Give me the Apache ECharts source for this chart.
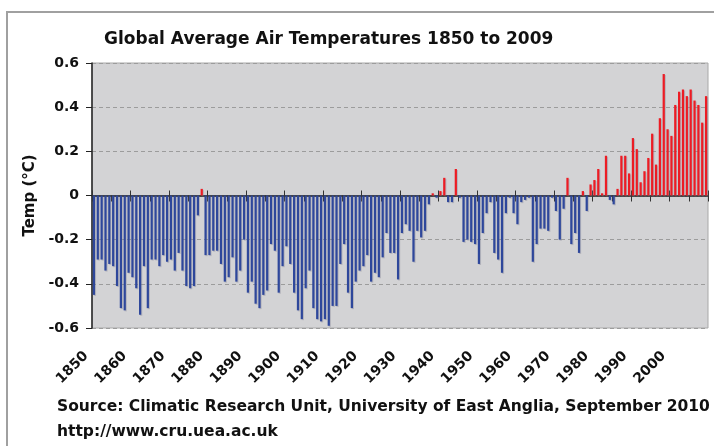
<!DOCTYPE html>
<html>
<head>
<meta charset="utf-8">
<script src="https://cdn.jsdelivr.net/npm/echarts@6/dist/echarts.min.js"></script>
<style>
  html, body { margin: 0; padding: 0; background: #fff; }
  #chart { width: 714px; height: 446px; }
</style>
</head>
<body>
<div id="chart"></div>
<script>
const firstYear = 1850
const lastYear = 2009
const years = []
for (let y = firstYear; y <= lastYear; y++) years.push(String(y))

// annual anomaly (degC), one row per decade
const temps = [
  -0.45, -0.29, -0.29, -0.34, -0.31, -0.32, -0.41, -0.51, -0.52, -0.35,
  -0.37, -0.42, -0.54, -0.32, -0.51, -0.29, -0.29, -0.32, -0.27, -0.30,
  -0.29, -0.34, -0.26, -0.34, -0.41, -0.42, -0.41, -0.09, 0.03, -0.27,
  -0.27, -0.25, -0.25, -0.31, -0.39, -0.37, -0.28, -0.39, -0.34, -0.20,
  -0.44, -0.39, -0.49, -0.51, -0.45, -0.43, -0.22, -0.25, -0.44, -0.32,
  -0.23, -0.31, -0.44, -0.52, -0.56, -0.42, -0.34, -0.51, -0.56, -0.57,
  -0.56, -0.59, -0.50, -0.50, -0.31, -0.22, -0.44, -0.51, -0.39, -0.34,
  -0.32, -0.27, -0.39, -0.35, -0.37, -0.28, -0.17, -0.26, -0.26, -0.38,
  -0.17, -0.13, -0.16, -0.30, -0.16, -0.19, -0.16, -0.04, 0.01, -0.01,
  0.02, 0.08, -0.03, -0.03, 0.12, -0.01, -0.21, -0.20, -0.21, -0.22,
  -0.31, -0.17, -0.08, -0.03, -0.26, -0.29, -0.35, -0.08, -0.01, -0.08,
  -0.13, -0.03, -0.02, -0.01, -0.30, -0.22, -0.15, -0.15, -0.16, -0.01,
  -0.07, -0.20, -0.06, 0.08, -0.22, -0.17, -0.26, 0.02, -0.07, 0.05,
  0.07, 0.12, 0.01, 0.18, -0.02, -0.04, 0.03, 0.18, 0.18, 0.10,
  0.26, 0.21, 0.06, 0.11, 0.17, 0.28, 0.14, 0.35, 0.55, 0.30,
  0.27, 0.41, 0.47, 0.48, 0.45, 0.48, 0.43, 0.41, 0.33, 0.45
]

const titleText = 'Global Average Air Temperatures 1850 to 2009'
const sourceLines = [
  'Source: Climatic Research Unit, University of East Anglia, September 2010',
  'http://www.cru.uea.ac.uk'
]

const font = '"DejaVu Sans", Verdana, sans-serif'
const warm = '#ec1c24'
const cold = '#2e479b'

// same box for the plot and for the overlay that carries upward ticks + year labels
const plotBox = { left: 92, top: 63, width: 616, height: 265 }

const chart = echarts.init(document.getElementById('chart'))

let option = {
  animation: false,
  textStyle: { fontFamily: font },
  title: {
    text: titleText,
    left: 99,
    top: 26,
    textStyle: { fontSize: 17, fontWeight: 'bold', color: '#111', fontFamily: font }
  },
  graphic: [
    {
      type: 'rect',
      shape: { x: 7, y: 12, width: 720, height: 450 },
      style: { fill: 'none', stroke: '#a0a0a0', lineWidth: 2 },
      silent: true
    },
    {
      type: 'text',
      left: 57,
      top: 399,
      style: { text: sourceLines[0], font: 'bold 15.5px ' + font, fill: '#111' }
    },
    {
      type: 'text',
      left: 57,
      top: 424,
      style: { text: sourceLines[1], font: 'bold 15.5px ' + font, fill: '#111' }
    }
  ],
  grid: [
    Object.assign({
      show: true,
      backgroundColor: '#d3d3d5',
      borderColor: '#a8a8a8',
      borderWidth: 1,
      outerBoundsMode: 'none',
      containLabel: false
    }, plotBox),
    Object.assign({
      show: false,
      outerBoundsMode: 'none',
      containLabel: false
    }, plotBox)
  ],
  xAxis: [
    {
      // zero line with the downward ticks
      type: 'category',
      gridIndex: 0,
      data: years,
      position: 'bottom',
      axisLine: { onZero: true, lineStyle: { color: '#444', width: 2 } },
      axisTick: {
        show: true,
        length: 6,
        interval: (i) => i % 5 === 0,
        lineStyle: { color: '#333' }
      },
      axisLabel: { show: false },
      splitLine: { show: false }
    },
    {
      // upward part of the decade ticks
      type: 'category',
      gridIndex: 1,
      data: years,
      position: 'top',
      axisLine: { onZero: true, lineStyle: { color: '#444', width: 2 } },
      axisTick: {
        show: true,
        length: 5,
        interval: (i) => i % 10 === 0,
        lineStyle: { color: '#333' }
      },
      axisLabel: { show: false },
      splitLine: { show: false }
    },
    {
      // year labels under the plot
      type: 'category',
      gridIndex: 1,
      data: years,
      position: 'bottom',
      axisLine: { show: false, onZero: false },
      axisTick: { show: false },
      axisLabel: {
        interval: (i) => i % 10 === 0,
        rotate: 45,
        margin: 18,
        padding: [0, 11, 0, 0],
        fontSize: 14,
        fontWeight: 'bold',
        color: '#111',
        fontFamily: font
      },
      splitLine: { show: false }
    }
  ],
  yAxis: [
    {
      type: 'value',
      gridIndex: 0,
      min: -0.6,
      max: 0.6,
      interval: 0.2,
      name: 'Temp (°C)',
      nameLocation: 'middle',
      nameGap: 50,
      nameTextStyle: { fontSize: 15, fontWeight: 'bold', color: '#111', fontFamily: font },
      axisLine: { show: true, onZero: false, lineStyle: { color: '#222', width: 1.5 } },
      axisTick: { show: true, length: 6, lineStyle: { color: '#222' } },
      axisLabel: {
        margin: 13,
        fontSize: 14,
        fontWeight: 'bold',
        color: '#111',
        fontFamily: font,
        formatter: (v) => String(+v.toFixed(1))
      },
      splitLine: {
        lineStyle: { color: '#9c9c9c', type: [4, 3] }
      }
    },
    {
      type: 'value',
      gridIndex: 1,
      min: -0.6,
      max: 0.6,
      interval: 0.2,
      axisLine: { show: false, onZero: false },
      axisTick: { show: false },
      axisLabel: { show: false },
      splitLine: { show: false }
    }
  ],
  series: [
    {
      type: 'bar',
      xAxisIndex: 0,
      yAxisIndex: 0,
      barWidth: '58%',
      data: temps,
      itemStyle: {
        color: (p) => (p.value >= 0 ? warm : cold),
        shadowColor: 'rgba(120, 120, 140, 0.35)',
        shadowOffsetX: 1,
        shadowOffsetY: 1
      }
    }
  ]
}

option && chart.setOption(option)
</script>
</body>
</html>
